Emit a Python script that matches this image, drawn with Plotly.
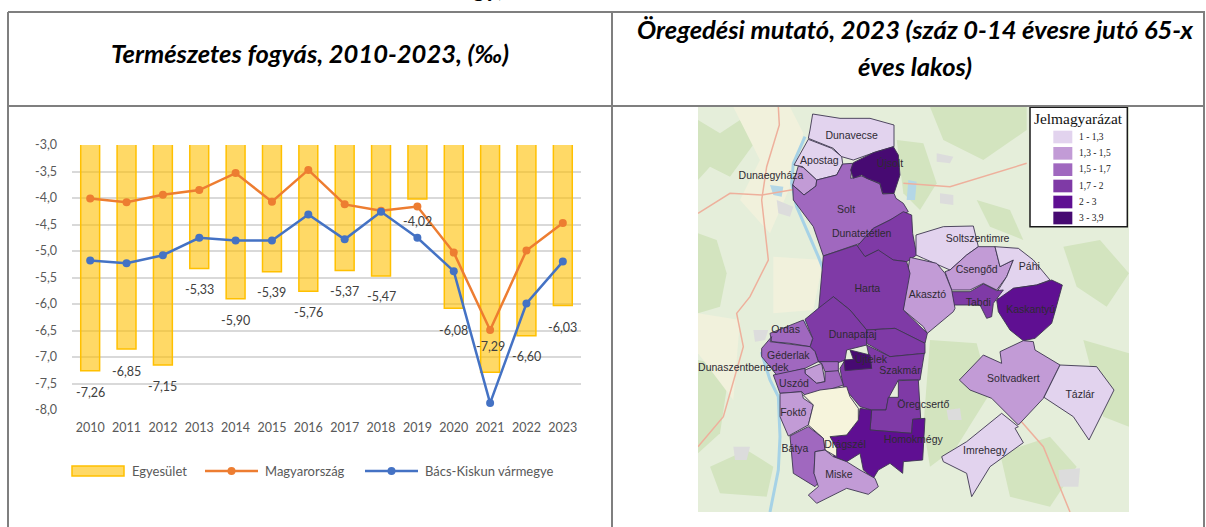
import plotly.graph_objects as go

W, H = 1206, 527
years = [str(y) for y in range(2010, 2024)]
egyesulet = [-7.26, -6.85, -7.15, -5.33, -5.90, -5.39, -5.76, -5.37, -5.47, -4.02, -6.08, -7.29, -6.60, -6.03]
magyarorszag = [-4.01, -4.08, -3.94, -3.85, -3.53, -4.07, -3.47, -4.12, -4.24, -4.16, -5.03, -6.49, -4.99, -4.47]
bacs_kiskun = [-5.18, -5.23, -5.08, -4.75, -4.80, -4.80, -4.31, -4.78, -4.26, -4.75, -5.38, -7.87, -5.99, -5.20]
egyesulet_labels = ["-7,26", "-6,85", "-7,15", "-5,33", "-5,90", "-5,39", "-5,76", "-5,37", "-5,47", "-4,02", "-6,08", "-7,29", "-6,60", "-6,03"]
label_below_px = [22, 22, 22, 21, 22, 21, 21, 21, 21, 22, 22, -26, 21, 22]
y_tick_values = [-3.0, -3.5, -4.0, -4.5, -5.0, -5.5, -6.0, -6.5, -7.0, -7.5, -8.0]
y_tick_labels = ["-3,0", "-3,5", "-4,0", "-4,5", "-5,0", "-5,5", "-6,0", "-6,5", "-7,0", "-7,5", "-8,0"]

C = {"a": "#e2d3ee", "b": "#c29bd6", "c": "#a068bf", "d": "#7f3aa6", "e": "#5f0f92", "f": "#470a72"}
B = 630  # offset of the lower half of the map trace sheet


def low(pts):
    return [(x, y + B) for x, y in pts]


regions = [
    ("Dunavecse", "a", [(368,42),(450,55),(540,55),(612,75),(612,140),(560,155),(490,180),(455,170),(430,145),(370,120),(355,115),(360,90)]),
    ("Apostag", "a", [(355,118),(312,195),(338,200),(380,240),(440,225),(458,190),(455,170),(425,145)]),
    ("Dunaegyháza", "b", [(325,198),(308,255),(342,285),(378,258),(380,240),(340,203)]),
    ("Solt", "c", [(458,192),(488,190),(482,235),(515,228),(570,252),(578,282),(612,280),(618,295),(640,310),(655,335),(600,360),(550,385),(510,430),(400,468),(370,380),(310,300),(308,255),(342,285),(378,258),(380,240),(440,225)]),
    ("Újsolt", "f", [(490,188),(550,158),(610,140),(625,165),(630,225),(612,280),(578,280),(570,250),(530,235),(515,225),(490,235),(482,210)]),
    ("Dunatetétlen", "d", [(640,335),(665,345),(668,400),(680,465),(650,485),(610,480),(580,465),(565,450),(525,470),(500,440),(550,385),(600,360)]),
    ("Soltszentimre", "a", [(678,405),(760,380),(850,378),(865,440),(830,465),(780,510),(700,475),(678,465)]),
    ("Csengőd", "b", [(865,440),(915,440),(930,500),(970,480),(950,530),(920,570),(880,550),(840,570),(785,570),(765,515),(780,510),(830,465)]),
    ("Páhi", "a", [(915,440),(985,445),(1030,480),(1080,540),(1040,555),(970,565),(935,600),(912,590),(950,530),(970,480),(930,500)]),
    ("Tabdi", "d", [(785,575),(840,575),(880,552),(920,572),(940,570),(910,610),(905,650),(890,655),(870,615),(790,615)]),
    ("Kaskantyú", "e", [(1085,540),(1117,555),(1095,635),(1085,670),(1035,715),(1000,722),(960,690),(925,635),(920,600),(970,565),(1040,555)]),
    ("Akasztó", "b", [(660,472),(740,490),(765,520),(785,570),(795,625),(790,635),(712,700),(700,680),(640,630),(645,560)]),
    ("Harta", "d", [(400,468),(500,435),(525,470),(565,450),(610,480),(650,485),(660,520),(640,630),(712,700),(705,730),(615,685),(530,690),(480,630),(430,590),(385,640)]),
    ("Dunapataj", "d", low([(385,-5),(345,28),(368,85),(360,110),(375,125),(385,155),(440,160),(465,150),(470,120),(530,105),(530,60),(480,0),(430,-40)])),
    ("Dunapataj2", "d", low([(530,60),(615,55),(705,100),(705,130),(600,140),(530,100)])),
    ("Szakmár", "d", low([(450,175),(465,150),(545,175),(530,105),(600,140),(703,130),(690,210),(625,210),(595,265),(588,300),(545,300),(510,290),(460,230)])),
    ("Öregcsertő", "d", low([(625,212),(685,210),(692,325),(668,328),(665,370),(540,360),(545,300),(588,300),(595,262),(625,262)])),
    ("Homokmégy", "e", low([(510,295),(545,300),(540,360),(665,370),(668,328),(705,325),(698,450),(640,455),(638,490),(600,460),(565,480),(550,505),(520,480),(510,430),(470,455),(430,440),(440,415),(420,380),(470,375),(505,330)])),
    ("Újtelek", "f", low([(480,120),(540,135),(545,175),(465,182),(462,150),(490,148)])),
    ("Ordas", "c", low([(340,30),(368,85),(360,110),(300,100),(245,95),(240,70),(290,50)])),
    ("Géderlak", "c", low([(245,80),(240,95),(360,110),(375,125),(385,155),(345,175),(260,195),(215,140),(215,115)])),
    ("Kisnémet", "b", low([(345,180),(395,160),(405,215),(380,220),(345,190)])),
    ("Dunaszentbenedek", "c", low([(385,155),(445,155),(445,185),(405,185),(395,160)])),
    ("Uszód", "c", low([(250,195),(345,175),(345,190),(380,220),(405,215),(405,185),(445,182),(460,225),(385,250),(355,265),(335,245),(270,250)])),
    ("Foktő", "b", low([(270,250),(335,245),(340,265),(370,285),(355,345),(295,378),(270,320)])),
    ("Kalocsa", None, low([(340,255),(390,240),(470,230),(480,260),(505,295),(505,330),(470,375),(420,380),(440,415),(440,440),(405,420),(400,385),(355,345),(370,285)])),
    ("Bátya", "c", low([(300,378),(355,350),(400,385),(405,420),(375,425),(372,490),(388,515),(375,530),(310,490)])),
    ("Miske", "b", low([(375,425),(405,420),(430,440),(470,455),(510,480),(555,505),(565,530),(535,553),(470,535),(380,580),(355,555),(385,530),(372,490)])),
    ("Soltvadkert", "b", low([(1000,92),(1030,95),(1035,120),(1110,165),(1060,265),(985,345),(905,265),(840,240),(808,210),(880,135),(935,160),(930,125)])),
    ("Tázlár", "a", low([(1110,165),(1220,170),(1272,240),(1197,390),(1150,320),(1062,262)])),
    ("Imrehegy", "a", low([(935,310),(985,350),(975,355),(1000,398),(900,470),(845,560),(830,490),(760,455),(755,440),(830,395)])),
]

place_labels = [
    ("Dunavecse", 485, 108), ("Apostag", 388, 183), ("Dunaegyháza", 243, 228), ("Újsolt", 600, 192),
    ("Solt", 468, 330), ("Dunatetétlen", 515, 402), ("Soltszentimre", 863, 418), ("Csengőd", 860, 511),
    ("Páhi", 1018, 502), ("Harta", 532, 568), ("Akasztó", 712, 585), ("Tabdi", 865, 610), ("Kaskantyú", 1022, 630),
    ("Ordas", 287, 690), ("Dunapataj", 488, 707), ("Géderlak", 295, 770), ("Újtelek", 543, 782),
    ("Dunaszentbenedek", 160, 806), ("Szakmár", 630, 815), ("Uszód", 312, 852), ("Foktő", 310, 940),
    ("Öregcsertő", 700, 915), ("Soltvadkert", 970, 838), ("Tázlár", 1170, 887), ("Drágszél", 465, 1035),
    ("Homokmégy", 670, 1022), ("Bátya", 315, 1048), ("Imrehegy", 885, 1053), ("Miske", 447, 1127),
]

green_patches = [
    [(24,60),(90,100),(150,60),(200,120),(120,230),(60,200),(24,240)],
    [(24,400),(80,420),(110,520),(90,620),(24,640)],
    [(300,560),(360,570),(340,620),(280,620)],
    [(620,120),(700,130),(740,250),(690,330),(640,280)],
    [(860,300),(960,330),(1000,420),(900,380)],
    [(1120,440),(1230,420),(1317,520),(1250,620),(1160,560)],
    [(720,720),(860,730),(900,880),(800,1040),(720,1100),(700,980)],
    [(930,1060),(1080,1010),(1160,1100),(1080,1220),(960,1190)],
    [(1180,720),(1317,760),(1317,980),(1240,950)],
    [(24,780),(120,800),(90,1000),(24,1060)],
    [(60,1100),(170,1050),(250,1100),(230,1190),(90,1180)],
    [(720,21),(1010,21),(1010,90),(880,180),(760,120)],
]
cream_patches = [
    [(130,21),(300,21),(340,100),(300,260),(240,400),(150,300),(210,180)],
    [(24,640),(150,660),(130,900),(24,760)],
    [(250,470),(400,480),(370,630),(250,640)],
]
urban_patches = [
    [(260,300),(310,320),(300,350),(265,340)],
    [(740,160),(790,170),(780,190),(740,185)],
    [(750,280),(790,285),(790,315),(750,310)],
    [(190,690),(235,690),(225,720),(195,725)],
    [(770,930),(810,925),(815,960),(775,960)],
    [(1105,1110),(1170,1105),(1165,1160),(1110,1160)],
    [(130,1040),(180,1040),(170,1080),(135,1080)],
]
lake_patches = [
    [(655,240),(680,245),(675,300),(650,300)],
    [(240,255),(280,260),(275,290),(250,285)],
]
river = [(345,110),(310,190),(305,250),(320,320),(385,470),(420,560),(395,620),(290,720),(215,760),(240,840),(265,890),(270,1010),(265,1110),(240,1236)]
road_main = [(265,21),(268,75),(230,200),(215,300),(235,480),(180,590),(140,640),(160,740),(100,950),(24,1040)]
road_side = [(24,340),(120,280),(215,285),(420,250)]
road_east = [(640,250),(780,260),(1010,190)]
road_se = [(990,960),(1060,1040),(1140,1236)]

legend_colors = ["a", "b", "c", "d", "e", "f"]
legend_labels = ["1 - 1,3", "1,3 - 1,5", "1,5 - 1,7", "1,7 - 2", "2 - 3", "3 - 3,9"]

fig = go.Figure()

# ---- Chart
fig.add_bar(x=years, y=egyesulet, name="Egyesület", width=0.52, showlegend=False,
            marker=dict(color="rgba(255,192,0,0.6)", line=dict(color="#ffc000", width=1.5)), hoverinfo="y")
fig.add_scatter(x=years, y=magyarorszag, name="Magyarország", mode="lines+markers", showlegend=False,
                line=dict(color="#ed7d31", width=2.5), marker=dict(color="#ed7d31", size=8))
fig.add_scatter(x=years, y=bacs_kiskun, name="Bács-Kiskun vármegye", mode="lines+markers", showlegend=False,
                line=dict(color="#4472c4", width=2.5), marker=dict(color="#4472c4", size=8))


# ---- Map
def poly(pts, fill, line=None, width=1.0):
    fig.add_scatter(x=[p[0] for p in pts] + [pts[0][0]], y=[p[1] for p in pts] + [pts[0][1]],
                    xaxis="x2", yaxis="y2", mode="lines", fill="toself", fillcolor=fill,
                    line=dict(color=line or fill, width=width if line else 0), hoverinfo="skip", showlegend=False)


def path(pts, color, width):
    fig.add_scatter(x=[p[0] for p in pts], y=[p[1] for p in pts], xaxis="x2", yaxis="y2", mode="lines",
                    line=dict(color=color, width=width), hoverinfo="skip", showlegend=False)


for p in green_patches:
    poly(p, "#d3e4bf")
for p in cream_patches:
    poly(p, "#f1f1dc")
for p in urban_patches:
    poly(p, "#dcdcdc")
for p in lake_patches:
    poly(p, "#b4d7e6")
path(river, "#a6d2e6", 3)
for r in (road_main, road_side, road_east, road_se):
    path(r, "#eeb09c", 1.5)
for name, c, pts in regions:
    poly(pts, C[c] if c else "#f6f4dc", "#3d3550", 0.9)
fig.add_scatter(x=[p[1] for p in place_labels], y=[p[2] for p in place_labels], text=[p[0] for p in place_labels],
                xaxis="x2", yaxis="y2", mode="text", textposition="middle center", hoverinfo="skip", showlegend=False,
                textfont=dict(family="Liberation Sans", size=10.5, color="#2e2a33"))

shapes = [
    dict(type="rect", xref="x2", yref="y2", x0=24, x1=1317, y0=21, y1=1236, fillcolor="#e5eeda",
         line_width=0, layer="below"),
    dict(type="rect", xref="x2", yref="y2", x0=1020, x1=1312, y0=22, y1=380, fillcolor="white",
         line=dict(color="#1a1a1a", width=1.5)),
]
annotations = []
row_tops = [92, 141, 190, 239, 287, 335]
for rt, c, lab in zip(row_tops, legend_colors, legend_labels):
    shapes.append(dict(type="rect", xref="x2", yref="y2", x0=1090, x1=1147, y0=rt, y1=rt + 38, fillcolor=C[c], line_width=0))
    annotations.append(dict(xref="x2", yref="y2", x=1160, y=rt + 18, text=lab, showarrow=False, xanchor="left",
                            font=dict(family="Liberation Serif", size=9.5, color="#222")))
annotations.append(dict(xref="x2", yref="y2", x=1165, y=55, text="Jelmagyarázat", showarrow=False,
                        font=dict(family="Liberation Serif", size=15.4, color="#111")))

# ---- Table frame
GRAY = "#7f7f7f"


def px_line(x0, y0, x1, y1):
    shapes.append(dict(type="line", xref="paper", yref="paper", x0=x0 / W, x1=x1 / W, y0=1 - y0 / H, y1=1 - y1 / H,
                       line=dict(color=GRAY, width=2)))


px_line(8, 12, 1205, 12)
px_line(8, 106, 1205, 106)
px_line(8, 12, 8, 527)
px_line(612, 12, 612, 527)
px_line(1204, 12, 1204, 527)


def px_text(x, y, text, size, color="#000", xanchor="center"):
    annotations.append(dict(xref="paper", yref="paper", x=x / W, y=1 - y / H, text=text, showarrow=False,
                            xanchor=xanchor, yanchor="middle", font=dict(family="Lato", size=size, color=color)))


px_text(310, 53, "<b><i>Természetes fogyás, 2010-2023, (‰)</i></b>", 25.5)
px_text(915, 29, "<b><i>Öregedési mutató, 2023 (száz 0-14 évesre jutó 65-x</i></b>", 25.5)
px_text(915, 66, "<b><i>éves lakos)</i></b>", 25.5)
px_text(488, -13, "<b><i>gy,</i></b>", 25.5)

# ---- Bar value labels (category axis: annotation x is the category index)
for i, (v, t, d) in enumerate(zip(egyesulet, egyesulet_labels, label_below_px)):
    annotations.append(dict(xref="x", yref="y", x=i, y=v, yshift=-d, text=t, showarrow=False,
                            font=dict(family="Lato", size=12.5, color="#404040")))

# ---- Chart legend
shapes.append(dict(type="rect", xref="paper", yref="paper", x0=72 / W, x1=124 / W, y0=1 - 466 / H, y1=1 - 476 / H,
                   fillcolor="rgba(255,192,0,0.6)", line=dict(color="#ffc000", width=1.5)))
for x0, col in ((205, "#ed7d31"), (365, "#4472c4")):
    shapes.append(dict(type="line", xref="paper", yref="paper", x0=x0 / W, x1=(x0 + 53) / W, y0=1 - 471 / H, y1=1 - 471 / H,
                       line=dict(color=col, width=2.5)))
    cx = x0 + 26.5
    shapes.append(dict(type="circle", xref="paper", yref="paper", x0=(cx - 4) / W, x1=(cx + 4) / W,
                       y0=1 - 467 / H, y1=1 - 475 / H, fillcolor=col, line_width=0))
px_text(130, 471, "Egyesület", 13, "#595959", "left")
px_text(263, 471, "Magyarország", 13, "#595959", "left")
px_text(423, 471, "Bács-Kiskun vármegye", 13, "#595959", "left")

fig.update_layout(
    width=W, height=H, margin=dict(l=0, r=0, t=0, b=0), paper_bgcolor="white", plot_bgcolor="white",
    separators=", ", barmode="overlay", showlegend=False, shapes=shapes, annotations=annotations,
    font=dict(family="Lato", size=12, color="#595959"),
    xaxis=dict(domain=[72 / W, 581 / W], anchor="y", type="category", categoryorder="array", categoryarray=years,
               range=[-0.5, 13.5], showgrid=False, showline=False, ticks="", automargin=False,
               tickfont=dict(size=12.5, color="#595959"), ticklabelstandoff=8),
    yaxis=dict(domain=[1 - 410 / H, 1 - 145 / H], anchor="x", range=[-8, -3], tickmode="array",
               tickvals=y_tick_values, ticktext=y_tick_labels, automargin=False,
               showgrid=True, gridcolor="#d9d9d9", gridwidth=1.75, zeroline=False, showline=False, ticks="",
               tickfont=dict(size=12.5, color="#595959"), ticklabelstandoff=14),
    xaxis2=dict(domain=[698 / W, 1129 / W], anchor="y2", range=[24, 1317], visible=False, automargin=False),
    yaxis2=dict(domain=[1 - 512 / H, 1 - 107 / H], anchor="x2", range=[1236, 21], visible=False, automargin=False),
)
fig.write_html("out.html", config={"displayModeBar": False},
               post_script="document.body.style.margin='0';document.body.style.overflow='hidden';")
